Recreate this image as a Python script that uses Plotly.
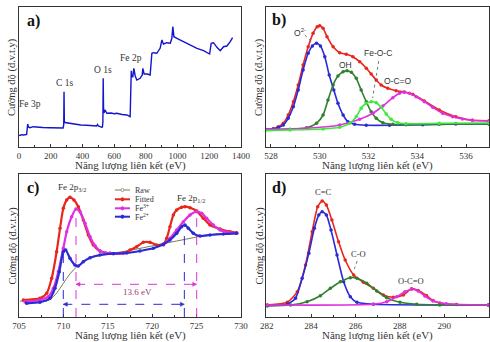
import plotly.graph_objects as go

W, H = 490, 342
SERIF = "Liberation Serif"
SANS = "Liberation Sans"
AX = "#333333"

BLUE = "#2a2ad6"
RED = "#e8261c"
MAG = "#e02fe0"
DGREEN = "#2f7f2f"
LGREEN = "#3ee83e"
GREY = "#9a9a9a"
OLIVE = "#7a7a52"

# ---------------- panel a: survey ----------------
a_ev = [0, 6, 17, 30, 48, 53, 55, 59, 69, 91, 120, 150, 196, 240, 269, 278, 282, 284, 286, 290,
        297, 343, 390, 427, 470, 490, 495, 501, 522, 526, 529, 531, 533, 536, 543, 554, 580, 600,
        617, 650, 680, 701, 705, 708, 711, 718, 724, 733, 743, 764, 777, 781, 789, 810, 827, 838,
        848, 869, 890, 901, 911, 933, 954, 964, 970, 977, 996, 1038, 1080, 1122, 1164, 1202, 1212,
        1227, 1248, 1269, 1290, 1311, 1332, 1347]
a_int = [12, 11.5, 12.3, 12, 12.5, 20, 23, 20, 19.3, 20.3, 19.8, 19.5, 19.3, 18.8, 18.7, 19, 22, 55.3, 26, 24.5,
         24.3, 23, 22, 21.7, 21.5, 21, 22.5, 21, 19.7, 20, 25, 68.7, 40, 34, 37, 33.7, 34, 33.2,
         33.7, 32.5, 32, 30.3, 62, 76.3, 70.3, 70.3, 78.7, 71, 67, 68.7, 72, 78.7, 73, 73, 72, 93.7,
         94.3, 93.7, 98.7, 107, 103, 104.3, 103.7, 108.7, 120.3, 110.3, 108.7, 105.3, 102, 98.7, 96.3, 93, 103.7,
         104.3, 99.7, 96.3, 100.3, 101, 105.3, 109.3]

# ---------------- panel b: O 1s ----------------
b_raw_ev = [527.76, 528.0, 528.3, 528.5, 528.7, 528.9, 529.1, 529.3, 529.5, 529.7, 529.9, 530.0, 530.15,
            530.3, 530.5, 530.7, 530.9, 531.1, 531.3, 531.5, 531.7, 531.9, 532.1, 532.3, 532.5, 532.7,
            532.9, 533.1, 533.3, 533.5, 533.7, 534.0, 534.3, 534.6, 534.9, 535.2, 535.6, 536.0, 536.4, 536.8]
b_raw_int = [18, 18, 20, 24, 33, 46, 63, 83, 101, 114, 121, 122.5, 119,
             111, 102, 97, 95.5, 95, 92, 88, 84, 79, 73, 66, 61, 59,
             58, 57, 57, 55, 53, 49, 45, 40, 37, 34, 30, 28, 27, 26.5]
b_fit_ev = [527.76, 528.10, 528.30, 528.51, 528.71, 528.92, 529.12, 529.32, 529.53, 529.73, 529.90, 530.00,
            530.14, 530.30, 530.55, 530.82, 531.09, 531.36, 531.64, 531.91, 532.11, 532.32, 532.52, 532.79,
            533.13, 533.47, 533.81, 534.29, 534.90, 535.58, 536.26, 536.94]
b_fit_int = [17.7, 18.3, 20.3, 23.7, 32, 45.3, 62, 82, 100.3, 113.7, 120.3, 121.3,
             118.7, 110.3, 100.3, 94.3, 92.7, 90.3, 85.3, 78.7, 73, 67, 62, 58.7,
             56.3, 55, 52.7, 46, 37, 30.3, 26.7, 26.3]
b_o2_ev = [527.76, 528.10, 528.30, 528.51, 528.71, 528.92, 529.12, 529.32, 529.53, 529.70, 529.87, 530.03,
           530.21, 530.39, 530.58, 530.75, 530.96, 531.16, 531.43, 531.91, 532.86, 534.22, 535.58, 536.94]
b_o2_int = [17.7, 18.0, 19.3, 22.0, 28.7, 40.3, 57.0, 77.0, 93.7, 101.0, 103.7, 101.0,
            90.3, 72.0, 57.0, 43.7, 32.0, 25.3, 22.7, 21.7, 21.7, 22.3, 23.0, 23.0]
b_oh_ev = [527.76, 528.78, 529.46, 529.87, 530.14, 530.34, 530.55, 530.75, 530.96, 531.12, 531.30, 531.50,
           531.70, 531.91, 532.11, 532.32, 532.59, 533.00, 533.54, 534.90, 536.94]
b_oh_int = [17.5, 17.7, 19.3, 23.7, 32, 47, 62, 71, 75.3, 76.3, 74.7, 68.7,
            57, 45.3, 35.3, 28.7, 24.3, 22.7, 22.3, 22.7, 23]
b_feoc_ev = [527.76, 528.78, 530.14, 530.82, 531.23, 531.50, 531.70, 531.91, 532.11, 532.32, 532.52,
             532.73, 532.93, 533.20, 533.54, 534.90, 536.94]
b_feoc_int = [16.3, 17, 18, 19.7, 23.7, 30.3, 38.7, 43.7, 45.3, 44.3, 39.7,
              33, 27.7, 24.3, 23.3, 23.7, 24]
b_occ_ev = [527.76, 529.46, 530.82, 531.64, 532.18, 532.59, 533.00, 533.27, 533.47, 533.68, 533.95,
            534.29, 534.63, 535.04, 535.45, 535.85, 536.26, 536.94]
b_occ_int = [17.7, 18.7, 22, 27.7, 33.7, 41, 49.3, 53.7, 54.7, 53.7, 50.3,
             45.3, 39.7, 33.7, 30.3, 28, 26.7, 26]

# ---------------- panel c: Fe 2p ----------------
c_raw_ev = [705.1, 705.5, 706, 706.5, 707, 707.5, 708, 708.4, 708.8, 709.2, 709.6, 710, 710.4, 710.8,
            711.2, 711.6, 712, 712.4, 712.8, 713.2, 713.6, 714, 714.5, 715, 715.5, 716, 716.5, 717,
            718, 719, 719.5, 720, 720.5, 721, 721.5, 722, 722.5, 723, 723.5, 724, 724.5, 725, 725.5,
            726, 726.5, 727, 727.5, 728, 728.5, 729, 729.5]
c_raw_int = [17, 17.3, 16.5, 16.8, 17.5, 18.5, 22, 29, 42, 62, 88, 110, 119, 121,
             118, 112, 104, 94, 84, 76, 70, 67, 66, 64.5, 63, 64, 64.5, 65,
             69, 74, 76, 75, 73, 73, 76, 89, 103, 108, 111, 112, 109, 107, 104,
             99, 94, 91, 88, 87, 86, 85, 84.5]
c_bg_ev = [705.11, 708.12, 708.87, 709.62, 710.37, 711.12, 711.87, 713.00, 714.87, 717.12, 719.00,
           720.88, 722.76, 724.63, 726.13, 729.51]
c_bg_int = [16, 16, 20.3, 28.7, 38.7, 47, 52.7, 58.7, 62.7, 66, 69.3,
            72.7, 76, 79.3, 82, 83.7]
c_fit_ev = [705.49, 707.36, 708.12, 708.68, 709.24, 709.62, 709.99, 710.37, 710.74, 711.19, 711.68,
            712.24, 712.81, 713.37, 714.12, 715.25, 716.75, 717.50, 718.25, 719.00, 719.75, 720.50,
            721.25, 721.63, 722.00, 722.38, 722.76, 723.32, 723.69, 724.26, 725.01, 725.76, 726.51,
            727.64, 728.76, 729.51]
c_fit_int = [17, 18.7, 23.7, 38.7, 65.3, 88.7, 108.7, 117, 119.7, 117, 110.3,
             97, 82, 72, 66, 63.7, 64, 67, 70.3, 74.7, 74.7, 72,
             72.7, 78.7, 90.3, 102, 107, 109.7, 110.3, 109.3, 106, 98.7, 92,
             88, 85.3, 84.3]
c_fe3_ev = [705.68, 707.36, 708.30, 708.87, 709.43, 709.99, 710.37, 710.93, 711.42, 711.87, 712.43,
            713.00, 713.56, 714.12, 715.25, 716.75, None,
            721.25, 722.00, 722.76, 723.51, 724.26, 725.01, 725.57, 726.13, 726.88, 727.64, 728.76, 729.51]
c_fe3_int = [15.3, 17, 20.3, 28.7, 45.3, 68.7, 85.3, 100.3, 108, 105.3, 93.7,
             80.3, 71.3, 66, 63.7, 63.7, None,
             72, 78.7, 87, 95.3, 102, 105.3, 103.7, 98.7, 92, 87, 84.3, 83.7]
c_fe2_ev = [705.86, 707.36, 708.49, 709.05, 709.54, 709.99, 710.26, 710.74, 711.31, 711.68, 712.24,
            713.00, 714.12, 715.62, 717.12, 718.63, 720.13, 721.25, 722.00, 722.76, 723.32, 723.69,
            724.07, 724.63, 725.38, 726.51, 728.01, 729.51]
c_fe2_int = [13.7, 14.7, 18.7, 28.7, 45.3, 65.3, 67, 58.7, 52, 51, 55.3,
             59.3, 62, 63.3, 64, 66, 68.7, 72.7, 77, 83.7, 90.3, 92,
             88.7, 83.7, 81, 82, 83, 83.7]
c_legend_names = ["Raw", "Fitted", "Fe<sup>3+</sup>", "Fe<sup>2+</sup>"]

# ---------------- panel d: C 1s ----------------
d_raw_ev = [282.0, 282.4, 282.8, 283.1, 283.4, 283.6, 283.8, 284.0, 284.2, 284.4, 284.55, 284.7, 284.9,
            285.1, 285.3, 285.5, 285.7, 285.9, 286.1, 286.3, 286.6, 286.9, 287.2, 287.5, 287.8, 288.1,
            288.4, 288.6, 288.9, 289.2, 289.5, 289.8, 290.1, 290.4, 290.7, 291.0, 291.3, 291.6, 291.9]
d_raw_int = [12, 12.5, 13.5, 16, 25, 37, 56, 80, 102, 114, 117, 113, 101,
             85, 70, 58, 49, 43.5, 40, 36, 32, 27, 23, 20.5, 20, 22,
             27, 28.5, 25.5, 21, 17, 15, 14.5, 14, 13.5, 13.5, 13.5, 13, 13]
d_fit_ev = [282.03, 282.93, 283.38, 283.75, 284.05, 284.30, 284.50, 284.69, 284.94, 285.24, 285.54,
            285.92, 286.36, 286.81, 287.26, 287.71, 288.16, 288.53, 288.83, 289.20, 289.50, 289.80,
            290.55, 292.0]
d_fit_int = [12, 14.7, 25.3, 52, 85.3, 110.3, 116, 112, 97, 75.3, 57,
             42, 34.7, 28.7, 22, 19.7, 22, 28.3, 26.5, 21.5, 16.5, 14,
             12.5, 12]
d_cc_ev = [282.03, 282.93, 283.30, 283.60, 283.90, 284.15, 284.35, 284.50, 284.69, 284.90, 285.17,
           285.47, 285.77, 286.07, 286.81, 292.0]
d_cc_int = [11.3, 12.7, 18.7, 38.7, 63.7, 88.7, 102, 105.3, 102, 87, 62,
            35.3, 20.3, 14.7, 12.7, 12]
d_co_ev = [282.03, 283.08, 283.82, 284.42, 284.87, 285.32, 285.77, 286.07, 286.51, 286.96, 287.41,
           288.01, 288.76, 289.80, 292.0]
d_co_int = [11.3, 12, 15.3, 21.3, 28.7, 35.3, 39.3, 38.7, 33.7, 26, 19.3,
            14.7, 12.7, 12, 11.7]
d_occ_ev = [282.03, 286.81, 287.41, 287.86, 288.23, 288.53, 288.83, 289.13, 289.50, 290.10, 292.0]
d_occ_int = [12, 12.7, 15.3, 20.3, 25.3, 27.7, 26, 21, 16, 13.3, 12]

# ---------------- layout geometry (pixels) ----------------
LEFT_COL = (19, 241)
RIGHT_COL = (266, 489)
TOP_ROW = (7, 147)
BOT_ROW = (174, 317)


def xd(px):
    return [px[0] / W, px[1] / W]


def yd(py):
    return [1 - py[1] / H, 1 - py[0] / H]


def xaxis(dom, rng, dtick, minor, anchor):
    return dict(domain=xd(dom), range=rng, dtick=dtick, showline=True, linecolor=AX, linewidth=1,
                mirror=True, ticks="inside", ticklen=3, tickcolor=AX, showgrid=False, zeroline=False,
                automargin=False, anchor=anchor,
                minor=dict(ticks="inside", ticklen=2, tickcolor=AX, dtick=minor),
                tickfont=dict(family=SERIF, size=9, color="#333"))


def yaxis(dom, rng, anchor):
    return dict(domain=yd(dom), range=rng, showline=True, linecolor=AX, linewidth=1, mirror=True,
                ticks="", showticklabels=False, showgrid=False, zeroline=False, anchor=anchor,
                automargin=False)


fig = go.Figure()


def curve(x, y, color, xa, ya, lw=1.6, ms=3.5, open_=False):
    mk = dict(size=ms, color=color, symbol="circle")
    if open_:
        mk = dict(size=ms, color="rgba(0,0,0,0)", symbol="circle-open", line=dict(color=color, width=1))
    fig.add_trace(go.Scatter(x=x, y=y, mode="lines+markers" if lw > 0 else "markers",
                             line=dict(color=color, width=max(lw, 0.1), shape="spline", smoothing=0.6),
                             marker=mk, xaxis=xa, yaxis=ya, showlegend=False, hoverinfo="skip",
                             connectgaps=False))


# panel a
fig.add_trace(go.Scatter(x=a_ev, y=a_int, mode="lines", line=dict(color="#1414cc", width=1.4),
                         xaxis="x", yaxis="y", showlegend=False))

# panel b
curve(b_fit_ev, b_fit_int, RED, "x2", "y2")
curve(b_o2_ev, b_o2_int, BLUE, "x2", "y2")
curve(b_oh_ev, b_oh_int, DGREEN, "x2", "y2")
curve(b_occ_ev, b_occ_int, MAG, "x2", "y2")
curve(b_feoc_ev, b_feoc_int, LGREEN, "x2", "y2")
curve(b_raw_ev, b_raw_int, GREY, "x2", "y2", lw=0, ms=4.5, open_=True)

# panel c
fig.add_trace(go.Scatter(x=c_bg_ev, y=c_bg_int, mode="lines", line=dict(color=OLIVE, width=1, shape="spline"),
                         xaxis="x3", yaxis="y3", showlegend=False))
curve(c_fit_ev, c_fit_int, RED, "x3", "y3", lw=2.2)
curve(c_fe3_ev, c_fe3_int, MAG, "x3", "y3", lw=2.2)
curve(c_fe2_ev, c_fe2_int, BLUE, "x3", "y3", lw=2.2)
curve(c_raw_ev, c_raw_int, GREY, "x3", "y3", lw=0, ms=4, open_=True)

# panel d
curve(d_fit_ev, d_fit_int, RED, "x4", "y4")
curve(d_cc_ev, d_cc_int, BLUE, "x4", "y4")
curve(d_co_ev, d_co_int, DGREEN, "x4", "y4")
curve(d_occ_ev, d_occ_int, MAG, "x4", "y4")
curve(d_raw_ev, d_raw_int, GREY, "x4", "y4", lw=0, ms=4, open_=True)

fig.update_layout(
    template="none",
    width=W, height=H, margin=dict(l=0, r=0, t=0, b=0, autoexpand=False),
    paper_bgcolor="white", plot_bgcolor="white", showlegend=False,
    font=dict(family=SERIF, color="#333"),
    xaxis=xaxis(LEFT_COL, [0, 1400], 200, 100, "y"),
    yaxis=yaxis(TOP_ROW, [0, 140], "x"),
    xaxis2=xaxis(RIGHT_COL, [527.8, 536.94], 2, 1, "y2"),
    yaxis2=yaxis(TOP_ROW, [0, 140], "x2"),
    xaxis3=xaxis(LEFT_COL, [705, 730], 5, 2.5, "y3"),
    yaxis3=yaxis(BOT_ROW, [0, 143], "x3"),
    xaxis4=xaxis(RIGHT_COL, [281.97, 292.02], 2, 1, "y4"),
    yaxis4=yaxis(BOT_ROW, [0, 143], "x4"),
)

ann = []
shapes = []


def txt(x, y, s, xref, yref, size=9, fam=SERIF, color="#333", xanchor="center", **kw):
    ann.append(dict(x=x, y=y, text=s, xref=xref, yref=yref, showarrow=False, xanchor=xanchor,
                    yanchor="middle", font=dict(family=fam, size=size, color=color), **kw))


# axis titles
XT = "Năng lượng liên kết (eV)"
YT = "Cường độ (đ.v.t.y)"
for col in (LEFT_COL, RIGHT_COL):
    cx = (col[0] + col[1]) / 2 / W
    txt(cx, 1 - 165.5 / H, XT, "paper", "paper", size=11)
    txt(cx, 1 - 335.5 / H, XT, "paper", "paper", size=11)
    for row in (TOP_ROW, BOT_ROW):
        txt((col[0] - 7) / W, 1 - (row[0] + row[1]) / 2 / H, YT, "paper", "paper", size=10.5, textangle=-90)

# panel letters
for lab, px, py in (("a)", 33, 21), ("b)", 279, 20), ("c)", 33, 188), ("d)", 279, 188)):
    txt(px / W, 1 - py / H, "<b>" + lab + "</b>", "paper", "paper", size=16, color="#111")

# panel a labels
txt(69, 43, "Fe 3p", "x", "y", size=9.5)
txt(290, 64, "C 1s", "x", "y", size=9.5)
txt(530, 77, "O 1s", "x", "y", size=9.5)
txt(706, 89, "Fe 2p", "x", "y", size=9.5)

# panel b labels
txt(529.19, 115, "O<sup>2-</sup>", "x2", "y2", size=8.5, fam=SANS)
txt(531.07, 82, "OH", "x2", "y2", size=8.5, fam=SANS)
txt(532.37, 94, "Fe-O-C", "x2", "y2", size=8.5, fam=SANS)
txt(533.23, 66, "O-C=O", "x2", "y2", size=8.5, fam=SANS)
shapes.append(dict(type="line", xref="x2", yref="y2", x0=529.39, y0=112, x1=529.68, y1=105,
                   line=dict(color="#555", width=0.8, dash="dot")))
shapes.append(dict(type="line", xref="x2", yref="y2", x0=532.42, y0=86, x1=532.17, y1=49,
                   line=dict(color="#555", width=0.8, dash="dot")))

# panel c labels
txt(710.97, 130, "Fe 2p<sub>3/2</sub>", "x3", "y3", size=9)
txt(724.37, 119, "Fe 2p<sub>1/2</sub>", "x3", "y3", size=9)
fe3_peak_1, fe3_peak_2 = 711.42, 725.01
fe2_peak_1, fe2_peak_2 = 709.99, 723.62
for xv, top, col in ((fe2_peak_1, 67, BLUE), (fe3_peak_1, 107, MAG), (fe2_peak_2, 91, BLUE), (fe3_peak_2, 104, MAG)):
    shapes.append(dict(type="line", xref="x3", yref="y3", x0=xv, x1=xv, y0=0, y1=top,
                       line=dict(color=col, width=1, dash="dash")))
for (x0, x1, yv, col) in ((fe3_peak_1, fe3_peak_2, 32.7, MAG), (fe2_peak_1, fe2_peak_2, 12.7, BLUE)):
    shapes.append(dict(type="line", xref="x3", yref="y3", x0=x0, x1=x1, y0=yv, y1=yv,
                       line=dict(color=col, width=1, dash="dash")))
    shapes.append(dict(type="path", xref="x3", yref="y3",
                       path=f"M {x1} {yv} L {x1 - 0.45} {yv + 2} L {x1 - 0.45} {yv - 2} Z",
                       fillcolor=col, line=dict(color=col, width=0.5)))
    shapes.append(dict(type="path", xref="x3", yref="y3",
                       path=f"M {x0} {yv} L {x0 + 0.45} {yv + 2} L {x0 + 0.45} {yv - 2} Z",
                       fillcolor=col, line=dict(color=col, width=0.5)))
txt(718.29, 25, "13.6 eV", "x3", "y3", size=9, color="#a03a6a")

# manual legend in panel c
leg_cols = [GREY, RED, MAG, BLUE]
leg_y = [127, 117.7, 108.7, 100.3]
for name, col, yv in zip(c_legend_names, leg_cols, leg_y):
    lcol = OLIVE if name == "Raw" else col
    shapes.append(dict(type="line", xref="x3", yref="y3", x0=715.8, x1=717.5, y0=yv, y1=yv,
                       line=dict(color=lcol, width=1 if name == "Raw" else 2)))
    shapes.append(dict(type="circle", xref="x3", yref="y3", x0=716.65 - 0.17, x1=716.65 + 0.17,
                       y0=yv - 1.6, y1=yv + 1.6, line=dict(color=col, width=1),
                       fillcolor="white" if name == "Raw" else col))
    txt(717.85, yv, name, "x3", "y3", size=8, xanchor="left")

# panel d labels
txt(284.56, 125, "C=C", "x4", "y4", size=8.5)
txt(286.13, 63, "C-O", "x4", "y4", size=8.5)
txt(288.5, 36, "O-C=O", "x4", "y4", size=8.5)
shapes.append(dict(type="line", xref="x4", yref="y4", x0=286.08, y0=56, x1=285.95, y1=48,
                   line=dict(color="#555", width=0.8, dash="dot")))

fig.update_layout(annotations=ann, shapes=shapes)
fig.write_html("out.html", config={"displayModeBar": False, "staticPlot": True},
               post_script="document.body.style.margin='0';document.body.style.padding='0';")
